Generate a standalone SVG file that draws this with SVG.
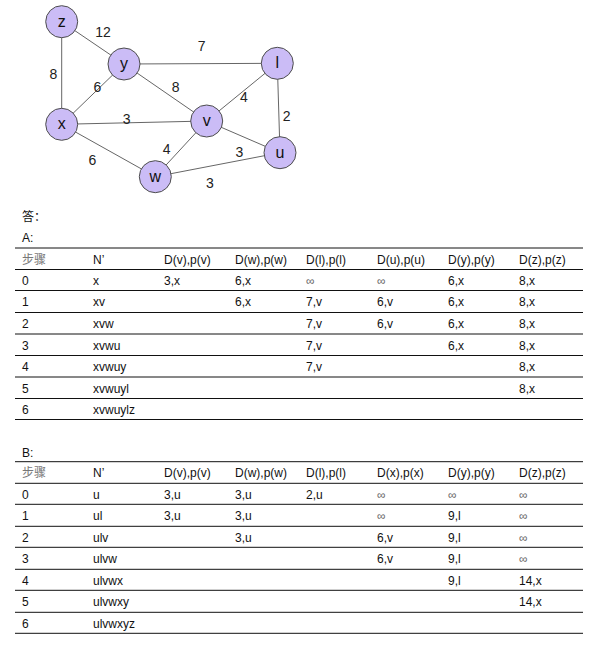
<svg xmlns="http://www.w3.org/2000/svg" width="600" height="658" viewBox="0 0 600 658">
<style>
.node circle{fill:#cbbcf6;stroke:#4d4d4d;stroke-width:1}
.node text{font-family:"Liberation Sans",Arial,sans-serif;font-size:16px;fill:#111;text-anchor:middle;dominant-baseline:central}
.edges line{stroke:#666;stroke-width:1}
.el{font-family:"Liberation Sans",Arial,sans-serif;font-size:14px;fill:#222;text-anchor:middle;dominant-baseline:central}
.t{font-family:"Liberation Sans","Noto Sans CJK SC",sans-serif;font-size:12px;fill:#111}
.g{fill:#777}
.inf{fill:#666}
.rule{stroke:#111;stroke-width:1}
</style>
<rect width="600" height="658" fill="#fff"/>
<g class="edges">
<line x1="61.7" y1="21.7" x2="124" y2="64"/>
<line x1="61.7" y1="21.7" x2="61.7" y2="124.3"/>
<line x1="124" y1="64" x2="277.3" y2="63.3"/>
<line x1="124" y1="64" x2="61.7" y2="124.3"/>
<line x1="124" y1="64" x2="206.7" y2="121"/>
<line x1="277.3" y1="63.3" x2="206.7" y2="121"/>
<line x1="277.3" y1="63.3" x2="280" y2="152.7"/>
<line x1="61.7" y1="124.3" x2="206.7" y2="121"/>
<line x1="61.7" y1="124.3" x2="155.3" y2="176.7"/>
<line x1="206.7" y1="121" x2="155.3" y2="176.7"/>
<line x1="206.7" y1="121" x2="280" y2="152.7"/>
<line x1="155.3" y1="176.7" x2="280" y2="152.7"/>
<text class="el" x="103" y="32">12</text>
<text class="el" x="201.7" y="45.7">7</text>
<text class="el" x="53.3" y="74">8</text>
<text class="el" x="97.3" y="87.3">6</text>
<text class="el" x="175.7" y="87.3">8</text>
<text class="el" x="244" y="96.7">4</text>
<text class="el" x="286.7" y="116">2</text>
<text class="el" x="126.7" y="119">3</text>
<text class="el" x="166.7" y="149">4</text>
<text class="el" x="239.3" y="151.7">3</text>
<text class="el" x="92.3" y="160">6</text>
<text class="el" x="210" y="182.7">3</text>
</g>
<g id="node-z" class="node"><circle cx="61.7" cy="21.7" r="16"/><text x="61.7" y="21.2">z</text></g>
<g id="node-y" class="node"><circle cx="124" cy="64" r="16"/><text x="124" y="63.5">y</text></g>
<g id="node-l" class="node"><circle cx="277.3" cy="63.3" r="16"/><text x="277.3" y="62.8">l</text></g>
<g id="node-x" class="node"><circle cx="61.7" cy="124.3" r="16"/><text x="61.7" y="123.8">x</text></g>
<g id="node-v" class="node"><circle cx="206.7" cy="121" r="16"/><text x="206.7" y="120.5">v</text></g>
<g id="node-u" class="node"><circle cx="280" cy="152.7" r="16"/><text x="280" y="152.2">u</text></g>
<g id="node-w" class="node"><circle cx="155.3" cy="176.7" r="16"/><text x="155.3" y="176.2">w</text></g>

<g id="answer" class="t">
<text x="22" y="221">答：</text>
<text x="22" y="241.5">A:</text>
<text x="22" y="456.5">B:</text>
</g>

<g id="tableA">
<g class="rule">
<line x1="15" y1="248" x2="583" y2="248"/>
<line x1="15" y1="269.5" x2="583" y2="269.5"/>
<line x1="15" y1="290.5" x2="583" y2="290.5"/>
<line x1="15" y1="312.5" x2="583" y2="312.5"/>
<line x1="15" y1="334" x2="583" y2="334"/>
<line x1="15" y1="355.5" x2="583" y2="355.5"/>
<line x1="15" y1="377" x2="583" y2="377"/>
<line x1="15" y1="398.5" x2="583" y2="398.5"/>
<line x1="15" y1="419.5" x2="583" y2="419.5"/>
</g>
<g class="t">
<text class="g" x="22" y="263.5">步骤</text><text x="93" y="263.5">N’</text><text x="164" y="263.5">D(v),p(v)</text><text x="235" y="263.5">D(w),p(w)</text><text x="306" y="263.5">D(l),p(l)</text><text x="377" y="263.5">D(u),p(u)</text><text x="448" y="263.5">D(y),p(y)</text><text x="519" y="263.5">D(z),p(z)</text>
<text x="22" y="285">0</text><text x="93" y="285">x</text><text x="164" y="285">3,x</text><text x="235" y="285">6,x</text><text class="inf" x="306" y="285">∞</text><text class="inf" x="377" y="285">∞</text><text x="448" y="285">6,x</text><text x="519" y="285">8,x</text>
<text x="22" y="306">1</text><text x="93" y="306">xv</text><text x="235" y="306">6,x</text><text x="306" y="306">7,v</text><text x="377" y="306">6,v</text><text x="448" y="306">6,x</text><text x="519" y="306">8,x</text>
<text x="22" y="328">2</text><text x="93" y="328">xvw</text><text x="306" y="328">7,v</text><text x="377" y="328">6,v</text><text x="448" y="328">6,x</text><text x="519" y="328">8,x</text>
<text x="22" y="349.5">3</text><text x="93" y="349.5">xvwu</text><text x="306" y="349.5">7,v</text><text x="448" y="349.5">6,x</text><text x="519" y="349.5">8,x</text>
<text x="22" y="371">4</text><text x="93" y="371">xvwuy</text><text x="306" y="371">7,v</text><text x="519" y="371">8,x</text>
<text x="22" y="392.5">5</text><text x="93" y="392.5">xvwuyl</text><text x="519" y="392.5">8,x</text>
<text x="22" y="414">6</text><text x="93" y="414">xvwuylz</text>
</g>
</g>

<g id="tableB">
<g class="rule">
<line x1="15" y1="461.7" x2="583" y2="461.7"/>
<line x1="15" y1="483.3" x2="583" y2="483.3"/>
<line x1="15" y1="504.3" x2="583" y2="504.3"/>
<line x1="15" y1="526.3" x2="583" y2="526.3"/>
<line x1="15" y1="547.3" x2="583" y2="547.3"/>
<line x1="15" y1="569.3" x2="583" y2="569.3"/>
<line x1="15" y1="590.3" x2="583" y2="590.3"/>
<line x1="15" y1="612.3" x2="583" y2="612.3"/>
<line x1="15" y1="633.3" x2="583" y2="633.3"/>
</g>
<g class="t">
<text class="g" x="22" y="477">步骤</text><text x="93" y="477">N’</text><text x="164" y="477">D(v),p(v)</text><text x="235" y="477">D(w),p(w)</text><text x="306" y="477">D(l),p(l)</text><text x="377" y="477">D(x),p(x)</text><text x="448" y="477">D(y),p(y)</text><text x="519" y="477">D(z),p(z)</text>
<text x="22" y="498.5">0</text><text x="93" y="498.5">u</text><text x="164" y="498.5">3,u</text><text x="235" y="498.5">3,u</text><text x="306" y="498.5">2,u</text><text class="inf" x="377" y="498.5">∞</text><text class="inf" x="448" y="498.5">∞</text><text class="inf" x="519" y="498.5">∞</text>
<text x="22" y="520">1</text><text x="93" y="520">ul</text><text x="164" y="520">3,u</text><text x="235" y="520">3,u</text><text class="inf" x="377" y="520">∞</text><text x="448" y="520">9,l</text><text class="inf" x="519" y="520">∞</text>
<text x="22" y="541.5">2</text><text x="93" y="541.5">ulv</text><text x="235" y="541.5">3,u</text><text x="377" y="541.5">6,v</text><text x="448" y="541.5">9,l</text><text class="inf" x="519" y="541.5">∞</text>
<text x="22" y="563">3</text><text x="93" y="563">ulvw</text><text x="377" y="563">6,v</text><text x="448" y="563">9,l</text><text class="inf" x="519" y="563">∞</text>
<text x="22" y="584.5">4</text><text x="93" y="584.5">ulvwx</text><text x="448" y="584.5">9,l</text><text x="519" y="584.5">14,x</text>
<text x="22" y="606">5</text><text x="93" y="606">ulvwxy</text><text x="519" y="606">14,x</text>
<text x="22" y="627.5">6</text><text x="93" y="627.5">ulvwxyz</text>
</g>
</g>
</svg>
